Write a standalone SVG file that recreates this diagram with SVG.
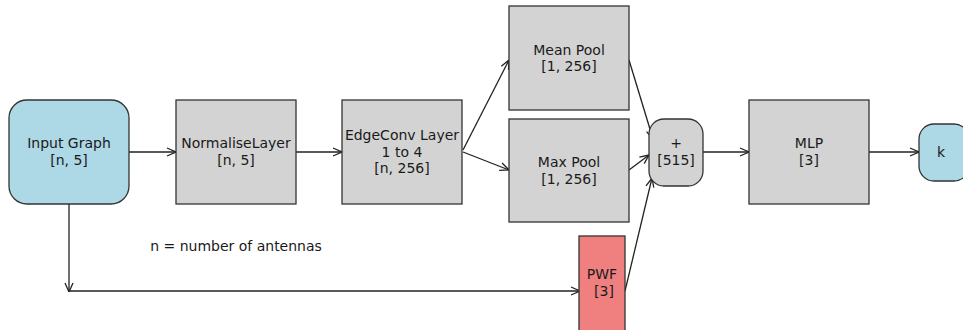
<svg xmlns="http://www.w3.org/2000/svg" width="963" height="330" viewBox="0 0 963 330">
<style>
.box{stroke:#333;stroke-width:1.3}
.blue{fill:#add8e6}
.gray{fill:#d3d3d3}
.red{fill:#f08080}
text{font-family:"DejaVu Sans",sans-serif;font-size:14px;fill:#1a1a1a;text-anchor:middle}
.e{stroke:#222;stroke-width:1.3;fill:none;marker-end:url(#a)}
</style>
<defs>
<marker id="a" viewBox="0 0 10 10" refX="10" refY="5" markerWidth="10" markerHeight="10" markerUnits="userSpaceOnUse" orient="auto">
<path d="M1,1 L10,5 L1,9" fill="none" stroke="#222" stroke-width="1.3"/>
</marker>
</defs>
<rect width="963" height="330" fill="#fff"/>
<g id="edges">
<line class="e" x1="129" y1="152" x2="176" y2="152"/>
<line class="e" x1="296" y1="152" x2="342" y2="152"/>
<line class="e" x1="463" y1="150" x2="509" y2="60"/>
<line class="e" x1="463" y1="152" x2="509" y2="170"/>
<line class="e" x1="629" y1="60" x2="653" y2="139"/>
<line class="e" x1="629" y1="170" x2="649" y2="155"/>
<line class="e" x1="625" y1="291" x2="652" y2="178"/>
<line class="e" x1="703" y1="152" x2="749" y2="152"/>
<line class="e" x1="869" y1="152" x2="919" y2="152"/>
<line class="e" x1="69" y1="204" x2="69" y2="292"/>
<line class="e" x1="70" y1="291" x2="580" y2="291"/>
</g>
<g id="input"><rect class="box blue" x="9" y="100" width="120" height="104" rx="18"/><text x="69" y="148">Input Graph</text><text x="69" y="165">[n, 5]</text></g>
<g id="normalise"><rect class="box gray" x="176" y="100" width="120" height="104"/><text x="236" y="148">NormaliseLayer</text><text x="236" y="165">[n, 5]</text></g>
<g id="edgeconv"><rect class="box gray" x="342" y="100" width="120" height="104"/><text x="402" y="140">EdgeConv Layer</text><text x="402" y="157">1 to 4</text><text x="402" y="173">[n, 256]</text></g>
<g id="meanpool"><rect class="box gray" x="509" y="6" width="120" height="104"/><text x="569" y="55">Mean Pool</text><text x="569" y="71">[1, 256]</text></g>
<g id="maxpool"><rect class="box gray" x="509" y="119" width="120" height="103"/><text x="569" y="167">Max Pool</text><text x="569" y="184">[1, 256]</text></g>
<g id="plus"><rect class="box gray" x="649" y="119" width="54" height="67" rx="15"/><text x="676" y="148">+</text><text x="676" y="165">[515]</text></g>
<g id="mlp"><rect class="box gray" x="749" y="100" width="120" height="104"/><text x="809" y="148">MLP</text><text x="809" y="165">[3]</text></g>
<g id="k"><rect class="box blue" x="919" y="124" width="50" height="57" rx="15"/><text x="941" y="157">k</text></g>
<g id="pwf"><rect class="box red" x="579" y="236" width="46" height="100"/><text x="602" y="279">PWF</text><text x="604" y="296">[3]</text></g>
<g id="note"><text x="236" y="251">n = number of antennas</text></g>
</svg>
